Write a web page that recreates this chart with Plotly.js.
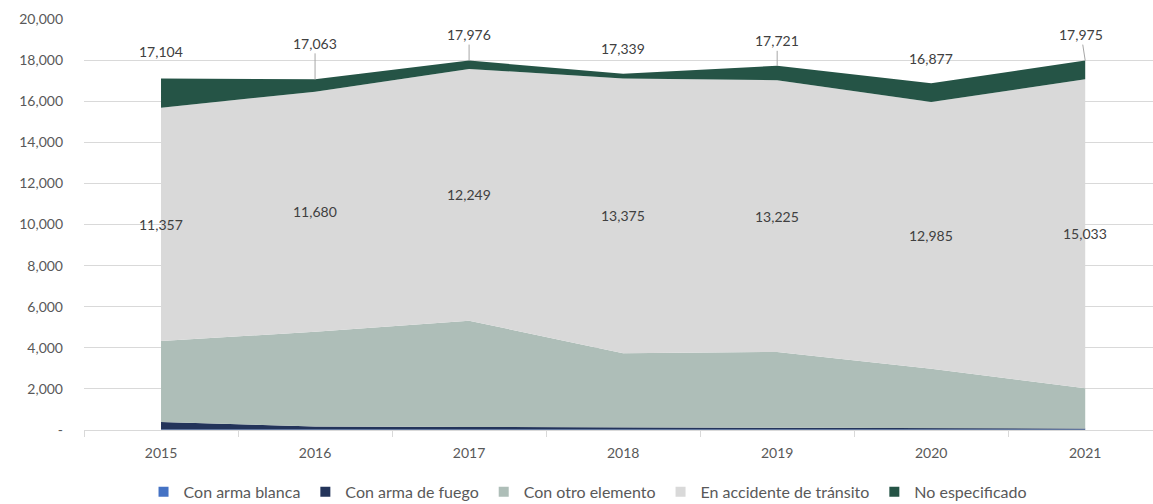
<!DOCTYPE html>
<html>
<head>
<meta charset="utf-8">
<script src="https://cdn.plot.ly/plotly-3.0.1.min.js"></script>
<style>html,body{margin:0;padding:0;background:#fff;}#chart{width:1153px;height:504px;}</style>
</head>
<body>
<div id="chart"></div>
<script>
const years = ['2015','2016','2017','2018','2019','2020','2021'];
const armaBlanca = [20, 15, 15, 15, 20, 25, 25];
const armaFuego = [370, 160, 130, 110, 80, 60, 50];
const otroElemento = [3940, 4605, 5175, 3605, 3700, 2895, 1955];
const accidenteTransito = [11357, 11680, 12249, 13375, 13225, 12985, 15033];
const noEspecificado = [1417, 603, 407, 234, 696, 912, 912];
const yTickVals = [0, 2000, 4000, 6000, 8000, 10000, 12000, 14000, 16000, 18000, 20000];
const yTickText = ['-', '2,000', '4,000', '6,000', '8,000', '10,000', '12,000', '14,000', '16,000', '18,000', '20,000'];

// label placement (pixels above the top of the stack) and leader-line flag
const totalLabelDy = [27, 36, 26, 25, 25, 25, 26];
const totalLabelDx = [0, 0, 0, 0, 0, 0, -4];
const totalLeader = [false, true, true, false, true, false, true];

const FONT = 'Lato, sans-serif';
const series = [
  {name: 'Con arma blanca', y: armaBlanca, color: '#4472C4'},
  {name: 'Con arma de fuego', y: armaFuego, color: '#23345A'},
  {name: 'Con otro elemento', y: otroElemento, color: '#AEBEB8'},
  {name: 'En accidente de tránsito', y: accidenteTransito, color: '#D9D9D9'},
  {name: 'No especificado', y: noEspecificado, color: '#255446'}
];
const traces = series.map(s => ({
  type: 'scatter', mode: 'lines', x: years, y: s.y, name: s.name,
  stackgroup: 'one', fillcolor: s.color, line: {width: 0, color: s.color},
  showlegend: false, hoverinfo: 'x+y+name'
}));
series.forEach(s => traces.push({
  type: 'scatter', mode: 'markers', x: [null], y: [null], name: s.name,
  marker: {symbol: 'square', size: 10, color: s.color}, showlegend: true, hoverinfo: 'skip'
}));

function fmt(v) { return String(v).replace(/\B(?=(\d{3})+(?!\d))/g, ','); }
const totals = years.map((_, i) => armaBlanca[i] + armaFuego[i] + otroElemento[i] + accidenteTransito[i] + noEspecificado[i]);
const annotations = [];
years.forEach((yr, i) => {
  const a = {x: i, y: totals[i], xref: 'x', yref: 'y', text: fmt(totals[i]),
    font: {family: FONT, size: 14, color: '#404040'}};
  if (totalLeader[i]) {
    a.showarrow = true; a.arrowhead = 0; a.arrowwidth = 1; a.arrowcolor = '#A6A6A6';
    a.standoff = 0; a.ax = totalLabelDx[i]; a.ay = -totalLabelDy[i];
  } else {
    a.showarrow = false; a.yshift = totalLabelDy[i];
  }
  annotations.push(a);
  const base = armaBlanca[i] + armaFuego[i] + otroElemento[i];
  annotations.push({x: i, y: base + accidenteTransito[i] / 2, xref: 'x', yref: 'y',
    text: fmt(accidenteTransito[i]), showarrow: false,
    font: {family: FONT, size: 14, color: '#404040'}});
});

const layout = {
  width: 1153, height: 504,
  margin: {l: 84, r: 0, t: 19, b: 74},
  paper_bgcolor: '#fff', plot_bgcolor: '#fff',
  font: {family: FONT, size: 14, color: '#595959'},
  showlegend: true,
  legend: {orientation: 'h', xref: 'container', yref: 'container', x: 0.51, xanchor: 'center',
    y: 0.024, yanchor: 'middle', traceorder: 'normal', itemwidth: 30,
    font: {family: FONT, size: 16, color: '#595959'}},
  xaxis: {type: 'category', range: [-0.5, 6.44], showgrid: false, zeroline: false,
    showline: true, linecolor: '#D9D9D9', linewidth: 1,
    ticks: 'outside', tickson: 'boundaries', ticklen: 6, tickcolor: '#D9D9D9',
    ticklabelstandoff: 10,
    tickfont: {family: FONT, size: 14, color: '#595959'}, fixedrange: true},
  yaxis: {range: [0, 20000], tickvals: yTickVals, ticktext: yTickText,
    showgrid: true, gridcolor: '#D9D9D9', gridwidth: 1, zeroline: false, showline: false,
    ticks: '', ticklabelstandoff: 20,
    tickfont: {family: FONT, size: 14, color: '#595959'}, fixedrange: true},
  annotations: annotations
};
Plotly.newPlot('chart', traces, layout, {displayModeBar: false});
</script>
</body>
</html>
